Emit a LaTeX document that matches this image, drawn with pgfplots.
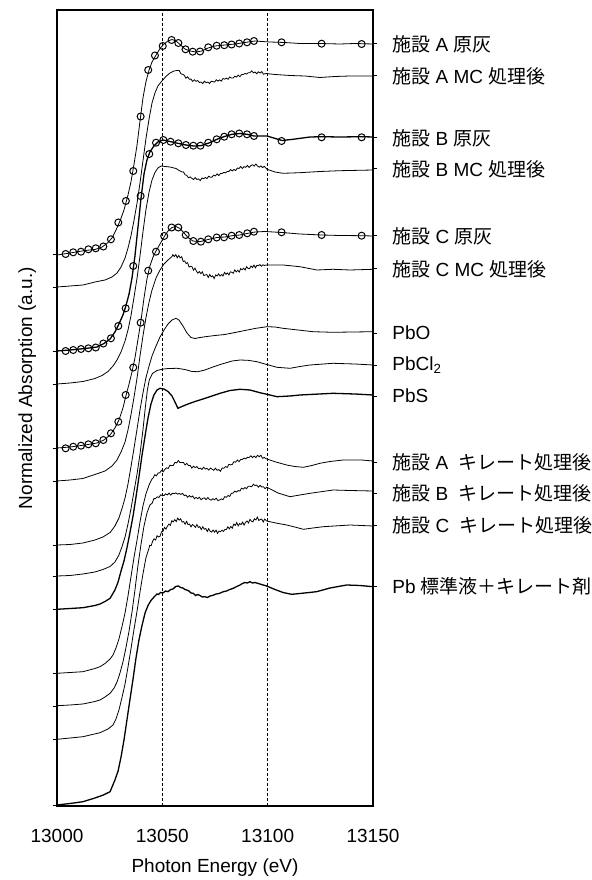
\documentclass[border=0pt]{standalone}
\usepackage{fontspec}
\setmainfont{Liberation Sans}
\newfontfamily\cjk{Noto Sans CJK JP}
\usepackage{pgfplots}
\pgfplotsset{compat=1.18}
\newcommand{\sh}{{\cjk 施設}}
\begin{document}
\fontsize{9.5pt}{11.4pt}\selectfont
\begin{tikzpicture}
\path[use as bounding box] (-28.5pt,-37pt) rectangle (267pt,403pt);
\begin{axis}[
  at={(0,0)}, anchor=south west,
  width=158pt, height=398pt, scale only axis,
  xmin=13000, xmax=13150, ymin=0, ymax=796,
  xtick={13000,13050,13100,13150}, xticklabels={13000,13050,13100,13150},
  x tick style={draw=none},
  xmajorgrids, grid style={black, dash pattern=on 1.5pt off 1pt, line width=0.45pt},
  ytick={1,67,100,133,197,230,261,325,358,422,455,519,551}, yticklabels={},
  ytick pos=left,
  tick align=outside, major tick length=2pt,
  y tick style={black, line width=0.5pt},
  axis line style={line width=0.7pt},
  xticklabel style={anchor=base, yshift=-16pt},
  xlabel={Photon Energy (eV)},
  xlabel style={at={(rel axis cs:0.5,-0.083)}, anchor=base},
  ylabel={Normalized Absorption (a.u.)},
  ylabel style={at={(rel axis cs:-0.0791,0.525)}, anchor=base},
  cycle list={{black,solid,mark=none,line width=0.65pt}},
]
% 1 Site A raw ash
\addplot coordinates {(13000,551)(13006.2,553)(13013.3,555.5)(13018.0,556.5)(13021.4,559)(13023.7,562.5)(13026.1,568)(13028.0,576)(13029.9,585)(13031.8,596)(13033.7,611)(13035.1,624)(13036.5,641)(13038.0,661)(13039.4,685)(13040.8,708)(13042.2,724)(13043.7,736)(13045.1,744)(13047.0,751)(13048.9,757.5)(13050.8,762)(13052.7,765)(13054.6,766.5)(13056.5,765)(13058.4,761.5)(13060.7,757)(13063.1,755)(13066.0,754)(13068.8,755)(13071.7,758)(13075.0,760)(13079.7,761)(13084.5,762)(13089.2,763.5)(13094.0,765)(13097.3,764.5)(13101.1,764)(13108.2,763.5)(13115.3,762.5)(13124.8,762.5)(13134.3,762)(13141.4,762.5)(13150,762)};
\addplot[only marks, mark=o, mark size=1.75pt, mark options={line width=0.5pt}] coordinates {(13004.1,552)(13007.7,553.7)(13011.4,554.3)(13014.9,556.7)(13018.4,557.7)(13022.0,559.5)(13025.6,566.7)(13029.1,583.5)(13032.7,605)(13036.2,635)(13039.7,689.5)(13043.3,736)(13046.5,750.5)(13050.2,760)(13054.4,766)(13057.6,763)(13061.0,756.7)(13064.4,754.3)(13067.9,754.5)(13071.8,758.7)(13075.8,760.3)(13079.4,760.8)(13082.9,761.5)(13086.5,762.5)(13090.2,763.7)(13093.5,765)(13106.6,763.7)(13125.6,762.3)(13144.6,762)};
% 2 Site A MC
\addplot coordinates {(13000,519)(13006.2,520)(13012.3,521)(13018.0,524)(13022.8,526)(13026.1,529)(13028.5,533)(13030.4,539)(13032.3,548)(13033.7,558)(13035.1,570)(13036.5,585)(13038.0,603)(13039.4,623)(13040.8,645)(13042.2,667)(13043.7,687)(13045.1,703)(13046.5,713)(13047.9,720)(13049.8,725)(13051.7,729.5)(13053.6,733)(13055.5,735)(13057.0,735.5)(13058.0,735.5)(13058.8,732.2)(13059.6,731.7)(13060.4,730.8)(13061.2,727.8)(13062.0,729.2)(13062.8,726.8)(13063.6,726.9)(13064.4,724.5)(13065.2,726.2)(13066.0,724.7)(13066.8,725.5)(13067.6,723.5)(13068.4,724.0)(13069.2,722.5)(13070.0,724.8)(13070.8,723.2)(13071.6,724.0)(13072.4,722.5)(13073.2,724.7)(13074.0,724.4)(13074.8,723.9)(13075.6,726.2)(13076.4,724.9)(13077.2,726.1)(13078.0,724.9)(13078.8,727.5)(13079.6,726.8)(13080.4,727.9)(13081.2,726.7)(13082.0,729.1)(13082.8,727.9)(13083.6,727.9)(13084.4,729.8)(13085.2,728.9)(13086.0,730.9)(13086.8,729.3)(13087.6,731.4)(13088.4,731.4)(13089.2,732.5)(13090.0,731.9)(13090.8,733.3)(13091.6,733.3)(13092.4,735.1)(13093.2,733.2)(13094.0,734.0)(13094.8,732.2)(13095.6,734.2)(13096.4,733.0)(13097.2,734.4)(13098.0,731.8)(13099.2,732.5)(13103.5,731.5)(13110.6,730.5)(13117.7,730)(13124.8,728.5)(13131.9,729.5)(13139.1,730)(13150,730)};
% 3 Site B raw ash
\addplot coordinates {(13000,455)(13006.2,456)(13013.3,457.5)(13019.0,459)(13022.3,462.5)(13025.2,467)(13027.5,474)(13029.4,482)(13031.3,491)(13032.7,500)(13034.2,512)(13035.6,528)(13037.0,550)(13038.4,578)(13039.9,608)(13041.3,632)(13042.7,646)(13044.1,654)(13046.0,660)(13047.9,664)(13050.3,666)(13053.6,664.5)(13057.4,662.7)(13061.2,661)(13065.0,660)(13068.3,660.3)(13072.1,663)(13075.9,666.7)(13079.2,669.3)(13083.0,671.7)(13086.9,672.5)(13090.2,671.7)(13093.5,670)(13099.7,670)(13106.8,665.5)(13112.0,666.7)(13120.1,669)(13125.8,669.3)(13134.3,669)(13144.7,669.3)(13150,669)};
\addplot[only marks, mark=o, mark size=1.75pt, mark options={line width=0.5pt}] coordinates {(13004.1,455)(13007.7,456)(13011.4,457)(13014.9,457.7)(13018.4,458.5)(13022.0,462.5)(13025.6,467.7)(13029.1,480)(13032.6,497.7)(13036.2,540)(13039.7,610)(13043.8,652)(13047.0,663.3)(13050.5,666)(13053.9,664.3)(13057.6,662.7)(13061.2,661)(13064.7,660.3)(13068.1,660.3)(13071.8,663.3)(13075.8,666.7)(13079.4,669.3)(13082.9,671.7)(13086.5,672.5)(13090.2,671.7)(13093.5,670)(13106.6,665)(13125.6,668.7)(13144.6,668.7)};
% 4 Site B MC
\addplot coordinates {(13000,422)(13006.2,423)(13012.3,424.5)(13018.0,427.5)(13021.4,430.5)(13024.2,434.5)(13026.6,440)(13028.5,446)(13030.4,454)(13032.3,465)(13033.7,476)(13035.1,490)(13036.5,508)(13038.0,528)(13039.4,550)(13040.8,574)(13042.2,596)(13043.7,614)(13045.1,626)(13046.5,633.5)(13047.9,638)(13049.4,640)(13051.3,639.5)(13053.6,639)(13056.5,637.5)(13058.0,635.5)(13059.3,634)(13060.0,634.1)(13060.8,631.2)(13061.6,630.7)(13062.4,628.2)(13063.2,629.1)(13064.0,627.7)(13064.8,626.5)(13065.6,628.4)(13066.4,626.5)(13067.2,627.1)(13068.0,625.4)(13068.8,628.0)(13069.6,627.3)(13070.4,628.5)(13071.2,627.4)(13072.0,629.8)(13072.8,628.8)(13073.6,628.9)(13074.4,630.9)(13075.2,630.1)(13076.0,632.1)(13076.8,630.4)(13077.6,632.5)(13078.4,632.5)(13079.2,633.7)(13080.0,633.1)(13080.8,634.5)(13081.6,634.6)(13082.4,636.4)(13083.2,635.1)(13084.0,636.6)(13084.8,635.4)(13085.6,638.0)(13086.4,637.5)(13087.2,639.5)(13088.0,637.5)(13088.8,639.3)(13089.6,638.7)(13090.4,640.5)(13091.2,638.6)(13092.0,640.4)(13092.8,641.2)(13093.6,639.9)(13094.4,642.0)(13095.2,640.0)(13096.0,638.8)(13096.8,640.1)(13097.6,638.4)(13098.4,639.7)(13099.7,636.7)(13103.5,634)(13107.3,632.7)(13115.3,633.3)(13124.8,634.5)(13134.3,635.3)(13150,636)};
% 5 Site C raw ash
\addplot coordinates {(13000,358)(13006.2,359)(13013.3,361)(13019.0,363)(13022.3,366)(13025.2,371)(13027.5,378)(13029.4,386)(13031.3,398)(13032.7,410)(13034.2,422)(13035.6,434)(13037.0,448)(13038.4,466)(13039.9,486)(13041.3,508)(13042.7,527)(13044.1,540)(13045.6,549)(13047.0,555)(13048.9,562)(13050.8,569)(13052.7,575)(13054.6,578.5)(13056.5,579.5)(13058.4,577.5)(13060.3,573)(13062.2,568.5)(13064.5,565)(13067.9,564.3)(13071.7,566.5)(13075.9,568.5)(13079.7,569)(13083.1,570.3)(13086.9,571)(13090.2,572.5)(13094.0,574)(13098.7,574.5)(13106.8,573.5)(13115.3,572)(13125.8,571)(13134.3,570.5)(13144.7,570.3)(13150,570)};
\addplot[only marks, mark=o, mark size=1.75pt, mark options={line width=0.5pt}] coordinates {(13004.1,357.7)(13007.7,359.3)(13011.4,360.3)(13014.9,361.7)(13018.4,362.7)(13022.0,366)(13025.6,372.7)(13029.1,384.3)(13032.6,411)(13036.2,438.5)(13039.7,483.3)(13043.3,535.3)(13047.0,554.3)(13050.9,570)(13054.4,578.5)(13057.6,578.5)(13061.1,571)(13064.7,565)(13068.3,564.3)(13071.8,566.7)(13075.8,568.5)(13079.3,568.7)(13082.9,570.3)(13086.5,571)(13090.3,572.7)(13093.5,574.3)(13106.6,573.7)(13125.6,571)(13144.6,570.3)};
% 6 Site C MC
\addplot coordinates {(13000,325)(13006.2,326)(13012.3,327.5)(13018.0,331.5)(13022.8,335)(13026.1,340)(13028.5,346)(13030.4,354)(13032.3,364)(13033.7,376)(13035.1,391)(13036.5,408)(13038.0,428)(13039.4,450)(13040.8,470)(13042.2,488)(13043.7,504)(13045.1,516)(13047.0,528)(13048.9,536)(13050.8,542)(13052.7,546)(13054.6,549.5)(13055.0,551.4)(13055.7,549.4)(13056.4,551.4)(13057.1,548.2)(13057.8,550.5)(13058.5,548.1)(13059.2,549.3)(13059.9,544.5)(13060.6,545.1)(13061.3,542.5)(13062.0,543.3)(13062.7,538.9)(13063.4,539.8)(13064.1,539.2)(13064.8,535.8)(13065.5,537.9)(13066.2,534.8)(13066.9,532.8)(13067.6,534.4)(13068.3,532.3)(13069.0,534.2)(13069.7,530.4)(13070.4,531.1)(13071.1,531.4)(13071.8,528.6)(13072.5,531.5)(13073.2,529.2)(13073.9,530.2)(13074.6,527.4)(13075.3,531.1)(13076.0,530.1)(13076.7,532.1)(13077.4,529.9)(13078.1,531.4)(13078.8,530.0)(13079.5,533.6)(13080.2,531.7)(13080.9,533.1)(13081.6,531.1)(13082.3,534.2)(13083.0,533.7)(13083.7,532.8)(13084.4,536.1)(13085.1,534.1)(13085.8,535.7)(13086.5,533.9)(13087.2,537.4)(13087.9,536.3)(13088.6,537.8)(13089.3,536.0)(13090.0,539.3)(13090.7,537.5)(13091.4,537.4)(13092.1,540.0)(13092.8,538.4)(13093.5,540.9)(13094.2,538.2)(13094.9,540.7)(13095.6,540.4)(13096.3,541.4)(13097.0,539.8)(13097.7,541.2)(13098.4,540.6)(13099.7,541)(13107.3,541)(13115.3,539.3)(13123.4,536)(13131.0,536.7)(13139.1,536)(13150,536.7)};
% 7 PbO
\addplot coordinates {(13000,261)(13006.2,261.5)(13012.3,263)(13018.0,266)(13021.8,269)(13025.2,273.5)(13027.5,280)(13029.4,288)(13030.8,297)(13032.3,308)(13033.7,322)(13035.1,339)(13036.5,357)(13038.0,377)(13039.4,396)(13040.8,413)(13042.2,428)(13043.7,440)(13045.1,450)(13047.0,460)(13048.9,469)(13050.8,476)(13052.7,482)(13054.6,486)(13056.5,487.7)(13057.9,486)(13059.8,480)(13061.7,473)(13063.6,468.5)(13065.5,467.5)(13067.9,468.5)(13071.2,469.5)(13075.0,470.5)(13079.7,471.5)(13084.5,473.5)(13089.2,475.5)(13094.4,477.7)(13099.7,479.3)(13103.5,479)(13107.3,477.7)(13114.4,476)(13121.5,474.3)(13131.0,473.7)(13140.5,474)(13150,474.3)};
% 8 PbCl2
\addplot coordinates {(13000,230)(13006.2,230.5)(13012.3,232)(13018.0,234)(13021.8,236.5)(13025.2,239.5)(13027.5,244)(13029.4,251)(13030.8,259)(13032.3,269)(13033.7,282)(13035.1,297)(13036.5,314)(13038.0,332)(13039.4,352)(13040.8,376)(13042.0,400)(13042.9,416)(13043.8,426)(13045.3,432.5)(13047.5,435.5)(13049.8,436.7)(13052.7,437.5)(13057.0,437.7)(13060.7,436.5)(13064.1,434.5)(13066.9,434.3)(13070.2,436)(13074.0,439)(13078.3,442)(13083.1,445)(13086.9,446)(13090.6,445.7)(13094.9,444.3)(13098.7,442)(13104.4,438.7)(13110.6,437.7)(13115.3,439.5)(13120.1,441)(13131.0,442.7)(13141.4,442)(13150,441)};
% 9 PbS
\addplot coordinates {(13000,196.7)(13006.2,197.5)(13012.3,198.3)(13018.0,200.5)(13020.4,202)(13022.8,204.5)(13025.2,207.7)(13027.5,216)(13029.0,224)(13030.4,235)(13031.8,245)(13033.2,258)(13034.6,273)(13036.1,290)(13037.5,309)(13038.9,329)(13040.3,350)(13041.8,370)(13043.2,388)(13044.6,402)(13046.0,411)(13047.5,416)(13048.9,417.7)(13050.8,417)(13052.7,414.5)(13054.6,410)(13056.0,404)(13057.4,397.7)(13059.3,399.5)(13062.2,402)(13065.5,404.5)(13069.3,407)(13073.6,410)(13077.4,412.7)(13082.1,415.5)(13086.9,416.7)(13091.6,416)(13096.3,413.3)(13100.1,411.5)(13104.4,409.3)(13110.6,410)(13115.3,411)(13131.0,412.7)(13141.4,412)(13150,411)};
% 10 Site A chelate
\addplot coordinates {(13000,132.7)(13006.2,133.5)(13012.3,134.3)(13018.0,137.5)(13020.4,139.3)(13022.8,142.5)(13025.2,147)(13026.6,151)(13028.0,158)(13029.4,167)(13030.8,179)(13032.3,193)(13033.7,210)(13035.1,229)(13036.5,248)(13038.0,266)(13039.4,284)(13040.8,300)(13042.2,312)(13043.7,321)(13045.1,327)(13045.6,327.9)(13046.4,331.3)(13047.2,330.2)(13048.0,333.0)(13048.8,333.2)(13049.6,335.7)(13050.4,334.2)(13051.2,336.6)(13052.0,338.2)(13052.8,337.5)(13053.6,340.8)(13054.4,340.3)(13055.2,340.6)(13056.0,343.7)(13056.8,343.1)(13057.6,345.4)(13058.4,343.4)(13059.2,343.6)(13060.0,343.6)(13060.8,341.0)(13061.6,342.7)(13062.4,340.4)(13063.2,340.6)(13064.0,337.9)(13064.8,339.8)(13065.6,338.4)(13066.4,339.5)(13067.2,337.3)(13068.0,337.9)(13068.8,336.5)(13069.6,338.8)(13070.4,337.0)(13071.2,337.7)(13072.0,335.9)(13072.8,337.8)(13073.6,336.9)(13074.4,335.7)(13075.2,337.8)(13076.0,335.7)(13076.8,336.4)(13077.6,334.8)(13078.4,338.1)(13079.2,337.7)(13080.0,339.4)(13080.8,338.6)(13081.6,341.7)(13082.4,341.1)(13083.2,341.6)(13084.0,344.3)(13084.8,343.8)(13085.6,346.0)(13086.4,344.3)(13087.2,346.6)(13088.0,346.6)(13088.8,347.9)(13089.6,347.1)(13090.4,348.7)(13091.2,348.5)(13092.0,350.2)(13092.8,348.5)(13093.6,349.9)(13094.4,348.4)(13095.2,350.7)(13096.0,349.3)(13096.8,350.8)(13097.6,347.7)(13098.4,348.6)(13099.2,347.3)(13103.9,344)(13109.0,341)(13112.9,339.5)(13116.9,338.7)(13121.0,340.5)(13124.8,342.7)(13129.6,344.5)(13135.9,346)(13144.6,346)(13150,345)};
% 11 Site B chelate
\addplot coordinates {(13000,100.3)(13006.2,101)(13012.3,102)(13018.0,104.5)(13020.4,106)(13022.8,109)(13025.2,112.7)(13027.1,118)(13028.5,124)(13029.9,133)(13031.3,144)(13032.7,158)(13034.2,175)(13035.6,194)(13037.0,216)(13038.4,240)(13039.9,262)(13041.3,280)(13042.7,293)(13044.1,301)(13045.2,302.9)(13046.0,307.4)(13046.8,307.4)(13047.6,309.2)(13048.4,308.5)(13049.2,311.2)(13050.0,310.3)(13050.8,310.5)(13051.6,312.2)(13052.4,311.1)(13053.2,312.9)(13054.0,310.9)(13054.8,312.7)(13055.6,312.3)(13056.4,313.1)(13057.2,311.9)(13058.0,312.5)(13058.8,311.6)(13059.6,312.6)(13060.4,310.4)(13061.2,311.0)(13062.0,308.7)(13062.8,310.4)(13063.6,308.9)(13064.4,310.0)(13065.2,307.3)(13066.0,308.5)(13066.8,307.4)(13067.6,308.7)(13068.4,306.3)(13069.2,307.7)(13070.0,308.1)(13070.8,306.4)(13071.6,308.4)(13072.4,306.6)(13073.2,305.8)(13074.0,307.3)(13074.8,306.2)(13075.6,307.8)(13076.4,305.4)(13077.2,306.0)(13078.0,307.1)(13078.8,306.3)(13079.6,309.3)(13080.4,308.7)(13081.2,310.4)(13082.0,309.6)(13082.8,312.8)(13083.6,312.9)(13084.4,314.9)(13085.2,313.9)(13086.0,315.4)(13086.8,314.9)(13087.6,317.9)(13088.4,316.9)(13089.2,318.4)(13090.0,317.4)(13090.8,319.8)(13091.6,319.7)(13092.4,319.3)(13093.2,321.7)(13094.0,320.5)(13094.8,320.9)(13095.6,318.8)(13096.4,320.6)(13097.2,319.0)(13098.0,319.3)(13098.8,317.3)(13099.6,318.8)(13104.9,313)(13110.6,309.3)(13115.3,311)(13120.1,312.7)(13131.1,316)(13139.1,315.5)(13150,315)};
% 12 Site C chelate
\addplot coordinates {(13000,66.7)(13006.2,68)(13012.3,69.3)(13020.4,73.3)(13024.2,77)(13026.6,81)(13028.0,87)(13029.4,96)(13030.8,108)(13032.3,122)(13033.7,139)(13035.1,157)(13036.5,176)(13038.0,195)(13039.4,214)(13040.8,232)(13042.2,248)(13043.7,258)(13044.0,260.7)(13044.7,260.3)(13045.4,264.9)(13046.1,267.2)(13046.8,266.0)(13047.5,270.2)(13048.2,269.0)(13048.9,269.7)(13049.6,274.2)(13050.3,274.6)(13051.0,278.7)(13051.7,276.9)(13052.4,279.7)(13053.1,281.9)(13053.8,280.6)(13054.5,285.3)(13055.2,284.1)(13055.9,286.4)(13056.6,284.5)(13057.3,287.9)(13058.0,285.9)(13058.7,287.2)(13059.4,283.9)(13060.1,284.4)(13060.8,281.8)(13061.5,284.6)(13062.2,281.5)(13062.9,281.9)(13063.6,279.1)(13064.3,281.6)(13065.0,280.3)(13065.7,278.6)(13066.4,281.4)(13067.1,278.5)(13067.8,279.4)(13068.5,276.4)(13069.2,279.2)(13069.9,276.8)(13070.6,277.5)(13071.3,274.5)(13072.0,277.3)(13072.7,274.7)(13073.4,273.9)(13074.1,276.0)(13074.8,273.8)(13075.5,275.9)(13076.2,272.6)(13076.9,274.9)(13077.6,274.4)(13078.3,275.8)(13079.0,274.6)(13079.7,276.5)(13080.4,276.4)(13081.1,279.2)(13081.8,277.2)(13082.5,279.5)(13083.2,277.8)(13083.9,281.9)(13084.6,280.6)(13085.3,283.4)(13086.0,280.1)(13086.7,282.5)(13087.4,281.4)(13088.1,283.9)(13088.8,281.0)(13089.5,283.8)(13090.2,285.0)(13090.9,283.0)(13091.6,286.7)(13092.3,284.8)(13093.0,284.2)(13093.7,287.2)(13094.4,286.1)(13095.1,289.0)(13095.8,285.5)(13096.5,286.5)(13097.2,286.9)(13097.9,284.0)(13098.6,286.9)(13099.5,285)(13103.9,283)(13109.0,281)(13112.9,279)(13116.9,276.7)(13121.5,278)(13126.4,279.3)(13139.1,281)(13150,280)};
% 13 Pb standard + chelate
\addplot coordinates {(13000,1)(13006.2,2.5)(13012.3,4.3)(13018.0,8)(13022.0,11)(13025.2,14.3)(13027.5,26)(13029.0,35)(13030.4,49)(13031.8,66)(13033.2,86)(13034.6,106)(13036.1,127)(13037.5,148)(13038.9,166)(13040.3,180)(13041.8,193)(13043.2,200.5)(13044.6,205.5)(13046.5,210)(13047.5,212)(13048.1,211.5)(13049.2,213.5)(13050.3,213)(13051.5,215)(13052.7,214.3)(13054.0,216.5)(13055.1,217)(13056.3,219.5)(13057.6,220)(13058.7,218.5)(13059.8,218)(13060.7,216.5)(13061.6,216)(13062.6,215)(13063.6,213)(13064.7,212.7)(13065.8,210.5)(13066.8,211.5)(13067.9,210.5)(13069.0,209)(13070.2,209.3)(13071.4,208.5)(13072.6,210)(13073.8,210.5)(13075.5,212)(13077.0,212.5)(13078.9,214.3)(13080.5,215)(13082.0,216.5)(13083.7,217.7)(13085.3,219.5)(13086.9,221)(13088.0,222.5)(13089.2,223.5)(13090.4,223)(13091.6,224.3)(13092.8,223)(13094.0,223.5)(13096.3,222)(13099.5,220)(13103.5,216.5)(13107.3,213.5)(13111.4,211.7)(13115.3,212.5)(13123.2,214.3)(13129.6,218)(13137.5,221)(13143.8,220.5)(13150,219.3)};
\end{axis}
\begin{axis}[
  at={(0,0)}, anchor=south west,
  width=158pt, height=398pt, scale only axis,
  xmin=13000, xmax=13150, ymin=0, ymax=796,
  hide x axis, xtick=\empty, axis y line*=right,
  ytick={220,281,313,344,410,441,473,537,570,637,668,730,762},
  yticklabels={Pb {\cjk 標準液＋キレート剤},
    \sh\ C\ \ {\cjk キレート処理後},
    \sh\ B\ \ {\cjk キレート処理後},
    \sh\ A\ \ {\cjk キレート処理後},
    PbS, PbCl\textsubscript{2}, PbO,
    \sh\ C MC {\cjk 処理後}, \sh\ C {\cjk 原灰},
    \sh\ B MC {\cjk 処理後}, \sh\ B {\cjk 原灰},
    \sh\ A MC {\cjk 処理後}, \sh\ A {\cjk 原灰}},
  tick align=outside, major tick length=2pt,
  y tick style={black, line width=0.5pt},
  axis line style={line width=0.7pt},
  yticklabel style={anchor=west, xshift=4.3pt},
]
\end{axis}
\end{tikzpicture}
\end{document}
